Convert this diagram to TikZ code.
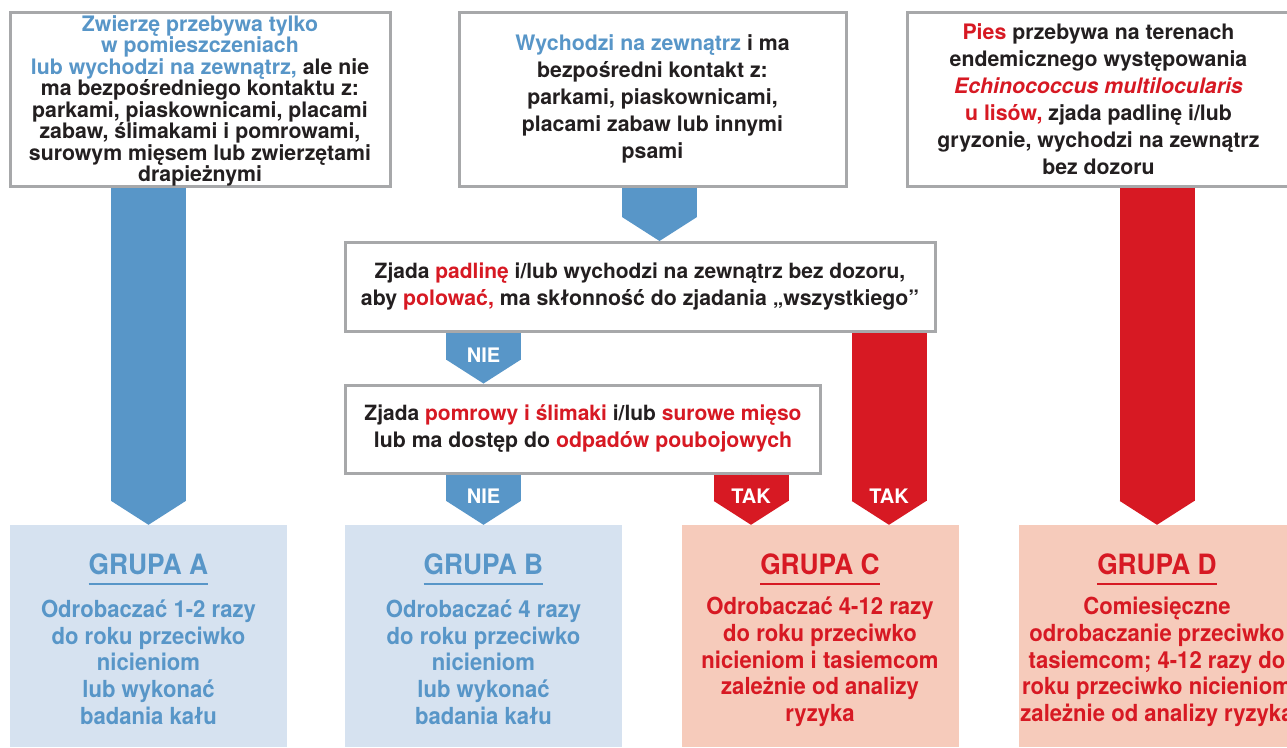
\documentclass[tikz,border=0pt]{standalone}
\usepackage{fontspec}
\setmainfont{TeX Gyre Heros}
\newfontfamily\condfont[FakeStretch=0.94]{TeX Gyre Heros}
\usepackage{tikz}
\usetikzlibrary{
  arrows.meta,
  calc
}
\definecolor{vetblue}{RGB}{88,150,200}
\definecolor{vetred}{RGB}{215,25,35}
\definecolor{paleblue}{RGB}{214,226,240}
\definecolor{palered}{RGB}{246,203,187}
\definecolor{framegray}{RGB}{167,168,170}
\definecolor{textdark}{RGB}{35,31,32}
\newcommand{\bl}[1]{\textcolor{vetblue}{#1}}
\newcommand{\rd}[1]{\textcolor{vetred}{#1}}
\tikzset{
  asktext/.style={
    align=center,
    inner sep=0pt,
    text=textdark,
    font=\bfseries\fontsize{21.3}{27}\selectfont
  },
  askbox/.style={asktext,draw=framegray,line width=3pt,fill=white},
  groupbox/.style={minimum width=277pt,minimum height=222pt,inner sep=0pt},
  bluegroup/.style={groupbox,fill=paleblue},
  redgroup/.style={groupbox,fill=palered},
  grouphead/.style={font=\condfont\bfseries\fontsize{28}{30}\selectfont,inner sep=0pt},
  groupbody/.style={font=\condfont\bfseries\fontsize{23.5}{26.7}\selectfont,align=center,inner sep=0pt},
  blockarrow/.style={line width=75pt,-{Triangle[length=24pt,width=75pt,line width=0pt]}},
  bluearrow/.style={blockarrow,draw=vetblue,fill=vetblue},
  redarrow/.style={blockarrow,draw=vetred,fill=vetred},
  answer/.style={text=white,inner sep=0pt,font=\bfseries\fontsize{20}{21}\selectfont},
}
\begin{document}
\begin{tikzpicture}[x=1pt,y=-1pt]
  \fill[white] (0,0) rectangle (1287,747);
  \useasboundingbox (0,0) rectangle (1287,747);
  \clip (0,0) rectangle (1287,747);
  % treatment groups
  \node[bluegroup] (grpA) at (148.5,636) {};
  \node[bluegroup] (grpB) at (483.5,636) {};
  \node[redgroup] (grpC) at (820,636) {};
  \node[redgroup] (grpD) at (1157,636) {};
  % questions
  \node[askbox,minimum width=380pt,minimum height=174pt] (indoor) at (200,99) {};
  \node[asktext,font=\bfseries\fontsize{21.3}{21.5}\selectfont] (indoortext) at ($(indoor.center)+(0,2)$) {
    \bl{Zwierzę przebywa tylko}\\
    \bl{w pomieszczeniach}\\
    \bl{lub wychodzi na zewnątrz,} ale nie\\
    ma bezpośredniego kontaktu z:\\
    parkami, piaskownicami, placami\\
    zabaw, ślimakami i pomrowami,\\
    surowym mięsem lub zwierzętami\\
    drapieżnymi
  };
  \node[askbox,minimum width=387pt,minimum height=174pt] (outdoor) at (652.5,99) {
    \bl{Wychodzi na zewnątrz} i ma\\
    bezpośredni kontakt z:\\
    parkami, piaskownicami,\\
    placami zabaw lub innymi\\
    psami
  };
  \node[askbox,minimum width=383pt,minimum height=174pt] (endemic) at (1098.5,99) {
    \rd{Pies} przebywa na terenach\\
    endemicznego występowania\\
    \rd{\textit{Echinococcus multilocularis}}\\
    \rd{u lisów,} zjada padlinę i/lub\\
    gryzonie, wychodzi na zewnątrz\\
    bez dozoru
  };
  \node[askbox,minimum width=590pt,minimum height=89pt] (carrion) at (640,287) {
    \fontsize{21}{29}\selectfont
    Zjada \rd{padlinę} i/lub wychodzi na zewnątrz bez dozoru,\\
    aby \rd{polować,} ma skłonność do zjadania „wszystkiego”
  };
  \node[askbox,minimum width=475pt,minimum height=88pt] (slugs) at (583,429) {
    \fontsize{21}{27}\selectfont
    Zjada \rd{pomrowy i ślimaki} i/lub \rd{surowe mięso}\\
    lub ma dostęp do \rd{odpadów poubojowych}
  };
  % block arrows
  \coordinate (outB) at ($(outdoor.south)+(7,0)$);
  \coordinate (tak1) at ($(grpC.north)+(-69,0)$);
  \coordinate (tak2) at ($(grpC.north)+(69,0)$);
  \draw[bluearrow] (grpA.north |- indoor.south) -- (grpA.north);
  \draw[bluearrow] (outB) -- (outB |- carrion.north);
  \draw[bluearrow] (grpB.north |- carrion.south) -- node[answer,pos=.44] {NIE} (grpB.north |- slugs.north);
  \draw[bluearrow] (grpB.north |- slugs.south) -- node[answer,pos=.44] {NIE} (grpB.north);
  \draw[redarrow] (tak1 |- slugs.south) -- node[answer,pos=.44] {TAK} (tak1);
  \draw[redarrow] (tak2 |- carrion.south) -- node[answer,pos=.85] {TAK} (tak2);
  \draw[redarrow] (grpD.north |- endemic.south) -- (grpD.north);
  % group texts
  \node[grouphead,text=vetblue] (headA) at (148.5,564) {GRUPA A};
  \node[grouphead,text=vetblue] (headB) at (483.5,564) {GRUPA B};
  \node[grouphead,text=vetred] (headC) at (820,564) {GRUPA C};
  \node[grouphead,text=vetred] (headD) at (1157,564) {GRUPA D};
  \draw[line width=2.5pt,vetblue] ($(headA.west)+(0,20)$) -- ($(headA.east)+(0,20)$);
  \draw[line width=2.5pt,vetblue] ($(headB.west)+(0,20)$) -- ($(headB.east)+(0,20)$);
  \draw[line width=2.5pt,vetred] ($(headC.west)+(0,20)$) -- ($(headC.east)+(0,20)$);
  \draw[line width=2.5pt,vetred] ($(headD.west)+(0,20)$) -- ($(headD.east)+(0,20)$);
  \node[groupbody,text=vetblue] (bodyA) at (148.5,662) {
    Odrobaczać 1-2 razy\\ do roku przeciwko\\ nicieniom\\ lub wykonać\\ badania kału};
  \node[groupbody,text=vetblue] (bodyB) at (483.5,662) {
    Odrobaczać 4 razy\\ do roku przeciwko\\ nicieniom\\ lub wykonać\\ badania kału};
  \node[groupbody,text=vetred] (bodyC) at (820,662) {
    Odrobaczać 4-12 razy\\ do roku przeciwko\\ nicieniom i tasiemcom\\ zależnie od analizy\\ ryzyka};
  \node[groupbody,text=vetred] (bodyD) at (1157,662) {
    Comiesięczne\\ odrobaczanie przeciwko\\ tasiemcom; 4-12 razy do\\ roku przeciwko nicieniom\\ zależnie od analizy ryzyka};
\end{tikzpicture}
\end{document}
